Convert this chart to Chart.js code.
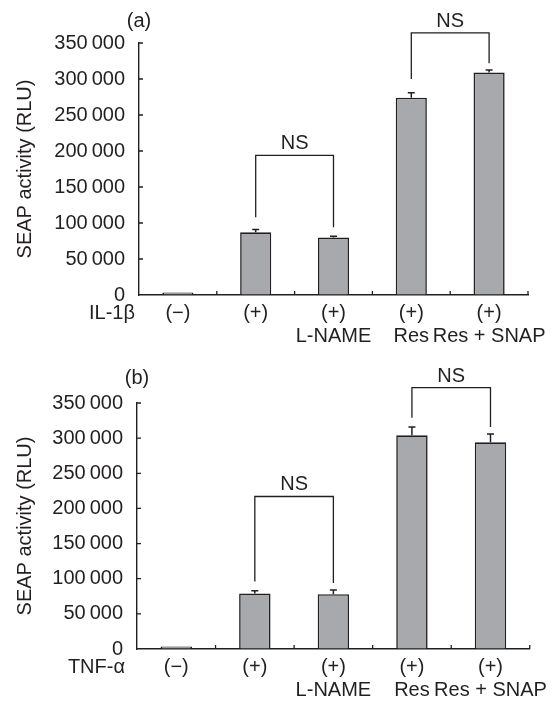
<!DOCTYPE html>
<html>
<head>
<meta charset="utf-8">
<script src="https://cdn.jsdelivr.net/npm/chart.js@4"></script>
<style>
  body { margin: 0; background: #fff; }
  .wrap { position: relative; width: 556px; height: 702px; }
  canvas { position: absolute; left: 0; display: block; }
  #chartA { top: 0; }
  #chartB { top: 340px; }
</style>
</head>
<body>
<div class="wrap">
<canvas id="chartA" width="556" height="356"></canvas>
<canvas id="chartB" width="556" height="362"></canvas>
</div>
<script>
// categories (second line only where the figure has one)
const categories = [['(\u2212)'], ['(+)'], ['(+)', 'L-NAME'], ['(+)', 'Res'], ['(+)', 'Res + SNAP']];
const yTickValues = [0, 50000, 100000, 150000, 200000, 250000, 300000, 350000];

// panel (a) IL-1beta
const il1bValues = [3500, 87000, 80000, 274000, 309000];
const il1bErrors = [0, 4000, 1500, 7000, 3500];
// NS brackets: [left bar, right bar], top value, leg ends
const il1bPairs = [[1, 2], [3, 4]];
const il1bBracketTop = [194000, 364000];
const il1bBracketLegs = [[108000, 94000], [300000, 322000]];

// panel (b) TNF-alpha
const tnfValues = [3500, 79000, 78000, 304000, 294000];
const tnfErrors = [0, 4000, 6000, 12000, 12000];
const tnfPairs = [[1, 2], [3, 4]];
const tnfBracketTop = [217000, 372000];
const tnfBracketLegs = [[96000, 94000], [329000, 316000]];

const FONT = 'Liberation Sans, Arial, Helvetica, sans-serif';
const SIZE = 20;
const INK = '#231f20';

function fmt(v) {
    return String(v).replace(/\B(?=(\d{3})+(?!\d))/g, '\u2009');
}

const annotate = {
    id: 'annotate',
    afterDatasetsDraw(chart, args, opts) {
        const ctx = chart.ctx;
        const x = chart.scales.x, y = chart.scales.y;
        const meta = chart.getDatasetMeta(0);
        ctx.save();
        ctx.strokeStyle = INK;

        // error bars (upper half only)
        ctx.lineWidth = 1.5;
        opts.values.forEach((v, i) => {
            if (!opts.errors[i]) return;
            const cx = meta.data[i].x;
            const y0 = y.getPixelForValue(v);
            const y1 = y.getPixelForValue(v + opts.errors[i]);
            ctx.beginPath();
            ctx.moveTo(cx, y0);
            ctx.lineTo(cx, y1);
            ctx.moveTo(cx - 3.5, y1);
            ctx.lineTo(cx + 3.5, y1);
            ctx.stroke();
        });

        // inner tick marks
        ctx.lineWidth = 1.3;
        ctx.beginPath();
        for (let i = 1; i <= opts.values.length; i++) {
            const px = x.getPixelForValue(i - 0.5);
            ctx.moveTo(px, y.bottom);
            ctx.lineTo(px, y.bottom - 4);
        }
        yTickValues.forEach(t => {
            if (t === 0) return;
            const py = y.getPixelForValue(t);
            ctx.moveTo(x.left, py);
            ctx.lineTo(x.left + 4, py);
        });
        ctx.stroke();

        // NS brackets
        ctx.lineWidth = 1.3;
        ctx.fillStyle = INK;
        ctx.font = SIZE + 'px ' + FONT;
        ctx.textAlign = 'center';
        ctx.textBaseline = 'alphabetic';
        opts.pairs.forEach((p, k) => {
            const xl = meta.data[p[0]].x, xr = meta.data[p[1]].x;
            const yt = y.getPixelForValue(opts.tops[k]);
            ctx.beginPath();
            ctx.moveTo(xl, y.getPixelForValue(opts.legs[k][0]));
            ctx.lineTo(xl, yt);
            ctx.lineTo(xr, yt);
            ctx.lineTo(xr, y.getPixelForValue(opts.legs[k][1]));
            ctx.stroke();
            ctx.fillText('NS', (xl + xr) / 2, yt - 6);
        });
        ctx.restore();
    },
    afterDraw(chart, args, opts) {
        const ctx = chart.ctx;
        const area = chart.chartArea;
        ctx.save();
        ctx.fillStyle = INK;
        ctx.font = SIZE + 'px ' + FONT;
        ctx.textBaseline = 'middle';
        ctx.textAlign = 'center';
        ctx.fillText(opts.panel, area.left, area.top - opts.panelGap);
        ctx.textAlign = 'right';
        ctx.fillText(opts.rowLabel, area.left - opts.rowGap, area.bottom + 18.5);
        ctx.restore();
    }
};

function makeChart(id, values, errors, pairs, tops, legs, layout, text) {
    return new Chart(document.getElementById(id), {
        type: 'bar',
        data: {
            labels: categories,
            datasets: [{
                data: values,
                backgroundColor: '#a7a9ac',
                borderColor: INK,
                borderWidth: 1.6,
                categoryPercentage: 1,
                barPercentage: 0.4
            }]
        },
        options: {
            responsive: false,
            animation: false,
            devicePixelRatio: 1,
            layout: { padding: { top: layout.top, right: layout.right, left: 0, bottom: 0 } },
            plugins: {
                legend: { display: false },
                tooltip: { enabled: false },
                annotate: {
                    values: values, errors: errors, pairs: pairs, tops: tops, legs: legs,
                    panel: text.panel, rowLabel: text.row,
                    panelGap: layout.panelGap, rowGap: layout.rowGap
                }
            },
            scales: {
                x: {
                    grid: { drawOnChartArea: false, drawTicks: false },
                    border: { color: INK, width: 1.4 },
                    ticks: {
                        color: INK,
                        padding: 7,
                        maxRotation: 0,
                        autoSkip: false,
                        font: { family: FONT, size: SIZE, lineHeight: 1.15 }
                    },
                    afterFit: s => { s.height = layout.xHeight; }
                },
                y: {
                    min: 0,
                    max: 350000,
                    afterBuildTicks: s => { s.ticks = yTickValues.map(v => ({ value: v })); },
                    grid: { drawOnChartArea: false, drawTicks: false },
                    border: { color: INK, width: 1.4 },
                    ticks: {
                        color: INK,
                        padding: 14,
                        font: { family: FONT, size: SIZE },
                        callback: v => fmt(v)
                    },
                    title: {
                        display: true,
                        text: 'SEAP activity (RLU)',
                        color: INK,
                        padding: { top: 13, bottom: 0 },
                        font: { family: FONT, size: SIZE, lineHeight: 1.2 }
                    },
                    afterFit: s => { s.width = layout.yWidth; }
                }
            }
        },
        plugins: [annotate]
    });
}

makeChart('chartA', il1bValues, il1bErrors, il1bPairs, il1bBracketTop, il1bBracketLegs,
    { top: 43, right: 28, xHeight: 61, yWidth: 139, panelGap: 22, rowGap: 4 },
    { panel: '(a)', row: 'IL-1\u03b2' });

makeChart('chartB', tnfValues, tnfErrors, tnfPairs, tnfBracketTop, tnfBracketLegs,
    { top: 63, right: 21, xHeight: 53, yWidth: 137, panelGap: 25, rowGap: 12 },
    { panel: '(b)', row: 'TNF-\u03b1' });
</script>
</body>
</html>
